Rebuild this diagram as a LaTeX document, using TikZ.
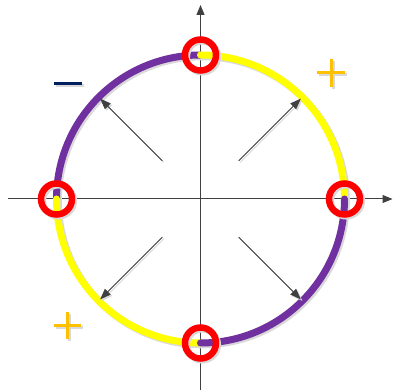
\documentclass[tikz,border=0pt]{standalone}
\usetikzlibrary{arrows.meta,calc}
\definecolor{ax}{HTML}{404040}
\definecolor{purp}{HTML}{7030A0}
\definecolor{yel}{HTML}{FFFF00}
\definecolor{org}{HTML}{FFC000}
\definecolor{navy}{HTML}{002060}
\definecolor{shd}{HTML}{D9D9D9}
\begin{document}
\begin{tikzpicture}[x=1pt,y=1pt,
  axis/.style={draw=ax,line width=1pt,-{Triangle[length=10pt,width=8pt]}},
  ray/.style={draw=ax,line width=0.9pt,-{Triangle[length=11pt,width=8pt]}},
  arcline/.style={line width=7pt,line cap=round},
  ring/.style={circle,draw=red,line width=6.5pt,minimum size=31pt,inner sep=0pt},
  sign/.style={line width=3pt}]
\useasboundingbox (0,0) rectangle (393,391);
\begin{scope}[shift={(200.5,192)}]
  % axes
  \coordinate (xl) at (-192.5,0);
  \coordinate (xr) at (192,0);
  \coordinate (yb) at (0,-191);
  \coordinate (yt) at (0,194);
  \draw[axis] (xl) -- (xr);
  \draw[axis] (yb) -- (yt);
  % shadows of arcs
  \begin{scope}[shift={(1.8,-1.8)}]
    \draw[arcline,shd] (90:144) arc[start angle=90,end angle=180,radius=144];
    \draw[arcline,shd] (0:144) arc[start angle=0,end angle=90,radius=144];
    \draw[arcline,shd] (180:144) arc[start angle=180,end angle=270,radius=144];
    \draw[arcline,shd] (0:144) arc[start angle=0,end angle=-90,radius=144];
  \end{scope}
  % arcs
  \draw[arcline,purp] (90:144) arc[start angle=90,end angle=180,radius=144];
  \draw[arcline,yel] (90:144) arc[start angle=90,end angle=0,radius=144];
  \draw[arcline,yel] (180:144) arc[start angle=180,end angle=270,radius=144];
  \draw[arcline,purp] (0:144) arc[start angle=0,end angle=-90,radius=144];
  % rays
  \foreach \a/\n in {45/ur,135/ul,225/ll,315/lr}{
    \coordinate (s\n) at (\a:54);
    \coordinate (e\n) at (\a:142);
    \coordinate (t\n) at ([shift={(1.5,-1.5)}]\a:54);
    \coordinate (f\n) at ([shift={(1.5,-1.5)}]\a:142);
  }
  \foreach \n in {ur,ul,ll,lr}{
    \draw[ray,draw=shd,fill=shd] (t\n) -- (f\n);
    \draw[ray,fill=ax] (s\n) -- (e\n);
  }
  % ring shadows
  \node[ring,draw=shd] at (1.8,142.2) {};
  \node[ring,draw=shd] at (-142.2,-1.8) {};
  \node[ring,draw=shd] at (145.8,-1.8) {};
  \node[ring,draw=shd] at (1.8,-145.8) {};
  % rings
  \node[ring] (rt) at (0,144) {};
  \node[ring] (rl) at (-144,0) {};
  \node[ring] (rr) at (144,0) {};
  \node[ring] (rb) at (0,-144) {};
  % minus sign
  \draw[sign,shd] (-145,113.5) -- (-117,113.5);
  \draw[sign,navy] (-146.5,115) -- (-118.5,115);
  % plus signs
  \draw[sign,shd] (118.5,124) -- (146.5,124) (132.5,110) -- (132.5,138);
  \draw[sign,org] (116.5,126) -- (144.5,126) (130.5,112) -- (130.5,140);
  \draw[sign,shd] (-144.5,-128) -- (-117.5,-128) (-131,-141.5) -- (-131,-114.5);
  \draw[sign,org] (-146.5,-126) -- (-119.5,-126) (-133,-139.5) -- (-133,-112.5);
\end{scope}
\end{tikzpicture}
\end{document}
